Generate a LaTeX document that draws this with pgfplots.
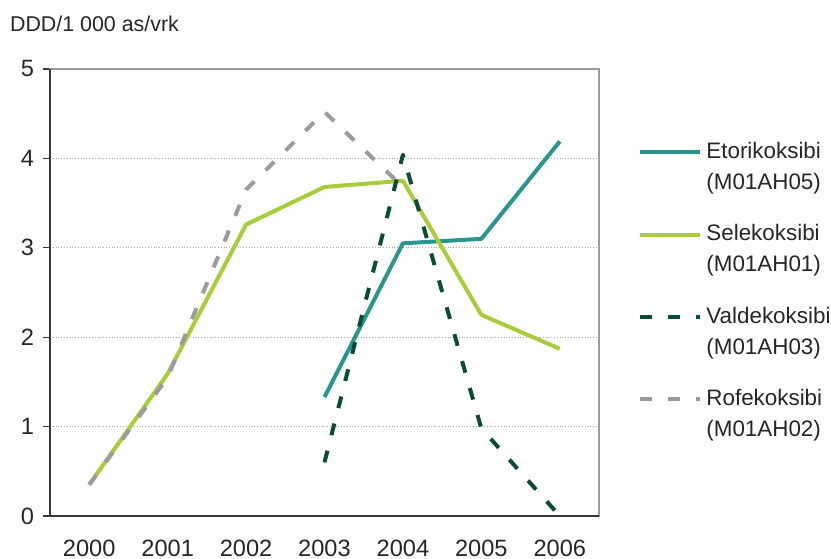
\documentclass[border=0pt]{standalone}
\usepackage{pgfplots}
\pgfplotsset{compat=1.18}
\usepackage{fontspec}
\setmainfont{Liberation Sans}
\definecolor{cEto}{HTML}{28968C}
\definecolor{cSel}{HTML}{A9CD3A}
\definecolor{cVal}{HTML}{0C4C35}
\definecolor{cRof}{HTML}{9B9B9E}
\definecolor{cAx}{HTML}{3A3A3A}
\begin{document}
\begin{tikzpicture}
\begin{axis}[
  name=ax,
  scale only axis, width=274.5pt, height=223.5pt,
  xmin=1999.5, xmax=2006.5, ymin=0, ymax=5,
  xtick={2000,2001,2002,2003,2004,2005,2006},
  xticklabels={2000,2001,2002,2003,2004,2005,2006},
  ytick={0,1,2,3,4,5},
  ytick pos=left,
  /pgf/number format/assume math mode=true,
  tick label style={font=\fontsize{11.8}{13}\selectfont, text=black!85},
  x tick style={draw=none},
  y tick style={cAx, line width=0.6pt},
  tick align=outside, major tick length=3.5pt,
  axis line style={draw=cRof, line width=0.6pt},
  ymajorgrids, grid style={densely dotted, black!35, line width=0.5pt},
  xticklabel style={yshift=-7.5pt, inner sep=1pt},
  yticklabel style={xshift=-1pt},
  legend cell align=left,
  legend image code/.code={\draw[#1] (0pt,7.6pt) -- (30pt,7.6pt);},
  legend style={at={(rel axis cs:1,1)}, anchor=north west, xshift=16.5pt, yshift=-32.5pt,
    draw=none, fill=none, row sep=12pt,
    nodes={align=left, font=\fontsize{11.2}{15.5}\selectfont, text=black!85}},
  every axis plot/.append style={line width=2pt, line join=round},
]
\addplot[cEto] coordinates {(2003,1.33) (2004,3.05) (2005,3.10) (2006,4.19)};
\addlegendentry{Etorikoksibi\\(M01AH05)}
\addplot[cSel] coordinates {(2000,0.35) (2001,1.59) (2002,3.26) (2003,3.68) (2004,3.75) (2005,2.25) (2006,1.87)};
\addlegendentry{Selekoksibi\\(M01AH01)}
\addplot[cVal, dash pattern=on 6pt off 8pt] coordinates {(2003,0.60) (2004,4.04) (2005,0.98) (2006,0.0)};
\addlegendentry{Valdekoksibi\\(M01AH03)}
\addplot[cRof, dash pattern=on 6pt off 8pt] coordinates {(2000,0.35) (2001,1.55) (2002,3.65) (2003,4.52) (2004,3.68)};
\addlegendentry{Rofekoksibi\\(M01AH02)}
\end{axis}
\draw[cAx, line width=0.8pt] (ax.north west) -- (ax.south west) -- (ax.south east);
\node[anchor=base west, font=\fontsize{10.7}{12}\selectfont, text=black!85] at ([xshift=-23.5pt, yshift=18.5pt]ax.north west) {DDD/1 000 as/vrk};
\pgfresetboundingbox
\useasboundingbox ([xshift=-25pt, yshift=-21.5pt]ax.south west) rectangle ([xshift=116pt, yshift=34.5pt]ax.north east);
\end{tikzpicture}
\end{document}
